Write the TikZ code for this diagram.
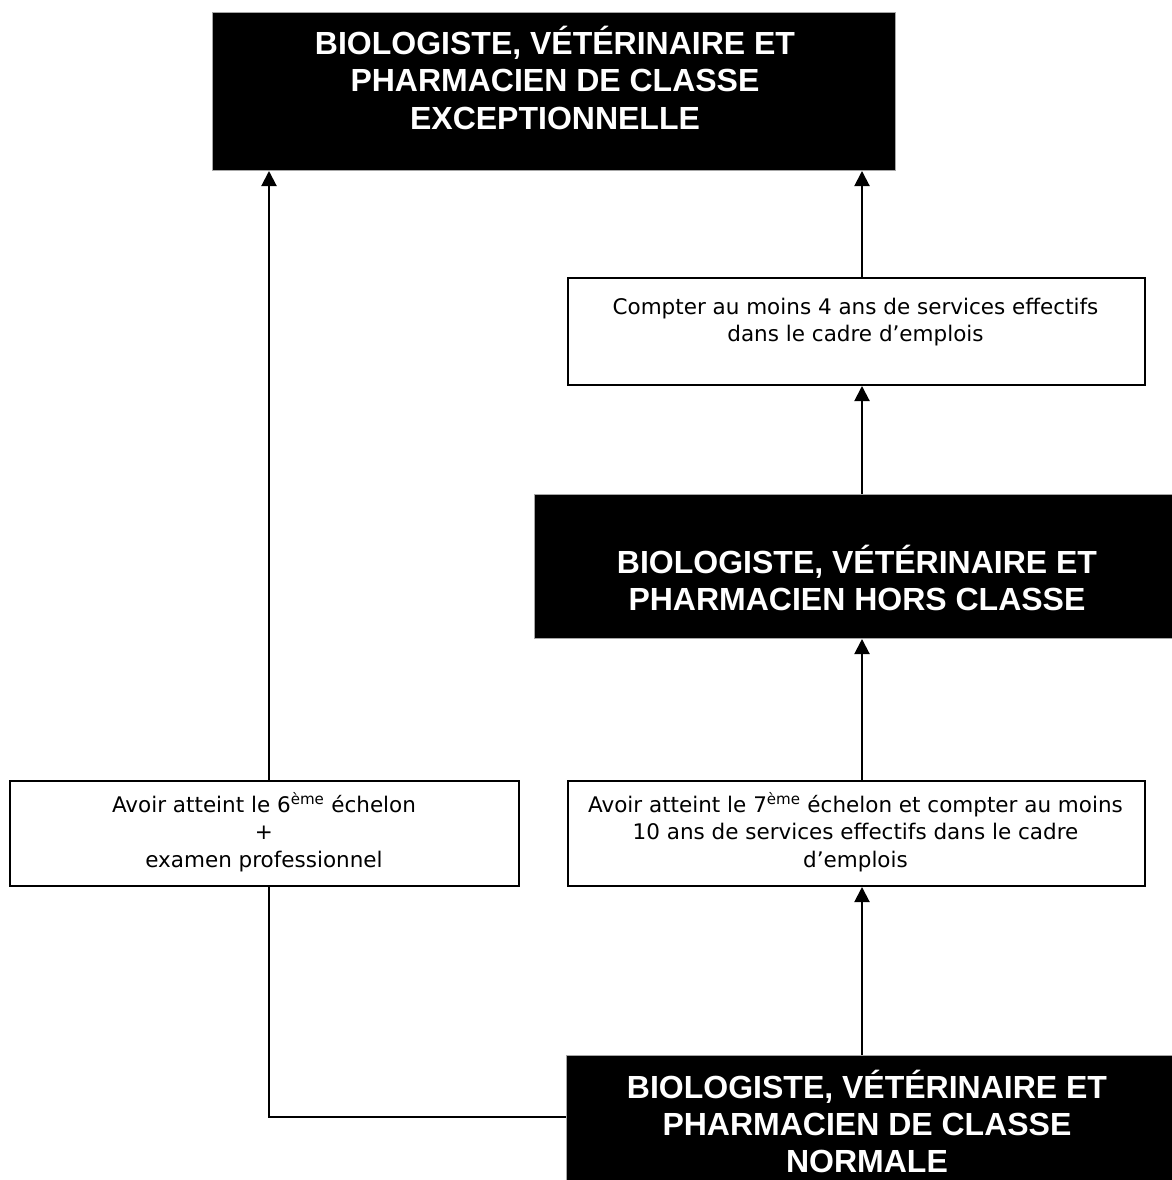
\documentclass[tikz,border=0pt]{standalone}
\usepackage{fontspec}
\setmainfont{DejaVu Sans}
\newfontfamily\hdfont{Liberation Sans}
\usetikzlibrary{arrows.meta}
\begin{document}
\begin{tikzpicture}[x=1pt,y=-1pt,
  blackbox/.style={draw=gray!70, line width=1pt, fill=black, inner sep=0pt, anchor=north west},
  whitebox/.style={draw=black, line width=2pt, fill=white, inner sep=0pt, anchor=north west},
  bigtxt/.style={text=white, font=\hdfont\bfseries\fontsize{32}{37}\selectfont, align=center, anchor=base, inner sep=0pt},
  smalltxt/.style={font=\fontsize{21.5}{27.5}\selectfont, align=center, anchor=base, inner sep=0pt},
  conn/.style={line width=2pt, draw=black},
  arr/.style={conn, -{Triangle[length=15pt,width=15pt]}}
]
\useasboundingbox[fill=white] (0,0) rectangle (1171,1180);
\coordinate (lx) at (269,0);
\coordinate (rx) at (862,0);
\coordinate (ly) at (0,1117);

\node[blackbox, minimum width=683pt, minimum height=158pt] (exc) at (212,12) {};
\node[bigtxt] (exct) at (555,129) {BIOLOGISTE, VÉTÉRINAIRE ET\\PHARMACIEN DE CLASSE\\EXCEPTIONNELLE};

\node[whitebox, minimum width=577pt, minimum height=107pt] (comp) at (567,277) {};
\node[smalltxt] (compt) at (855.5,341.5) {Compter au moins 4 ans de services effectifs\\dans le cadre d’emplois};

\node[blackbox, minimum width=646pt, minimum height=144pt] (hors) at (534,494) {};
\node[bigtxt] (horst) at (857,610.5) {BIOLOGISTE, VÉTÉRINAIRE ET\\PHARMACIEN HORS CLASSE};

\node[whitebox, minimum width=509pt, minimum height=105pt] (six) at (9,780) {};
\node[smalltxt] (sixt) at (264,867) {Avoir atteint le 6\textsuperscript{ème} échelon\\+\\examen professionnel};

\node[whitebox, minimum width=577pt, minimum height=105pt] (sept) at (567,780) {};
\node[smalltxt] (septt) at (855.5,867) {Avoir atteint le 7\textsuperscript{ème} échelon et compter au moins\\10 ans de services effectifs dans le cadre\\d’emplois};

\node[blackbox, minimum width=614pt, minimum height=140pt] (norm) at (566,1055) {};
\node[bigtxt] (normt) at (867,1172) {BIOLOGISTE, VÉTÉRINAIRE ET\\PHARMACIEN DE CLASSE\\NORMALE};

\draw[arr] (six.north -| lx) -- (exc.south -| lx);
\draw[conn] (six.south -| lx) |- (norm.west |- ly);
\draw[arr] (comp.north -| rx) -- (exc.south -| rx);
\draw[arr] (hors.north -| rx) -- (comp.south -| rx);
\draw[arr] (sept.north -| rx) -- (hors.south -| rx);
\draw[arr] (norm.north -| rx) -- (sept.south -| rx);
\end{tikzpicture}
\end{document}
